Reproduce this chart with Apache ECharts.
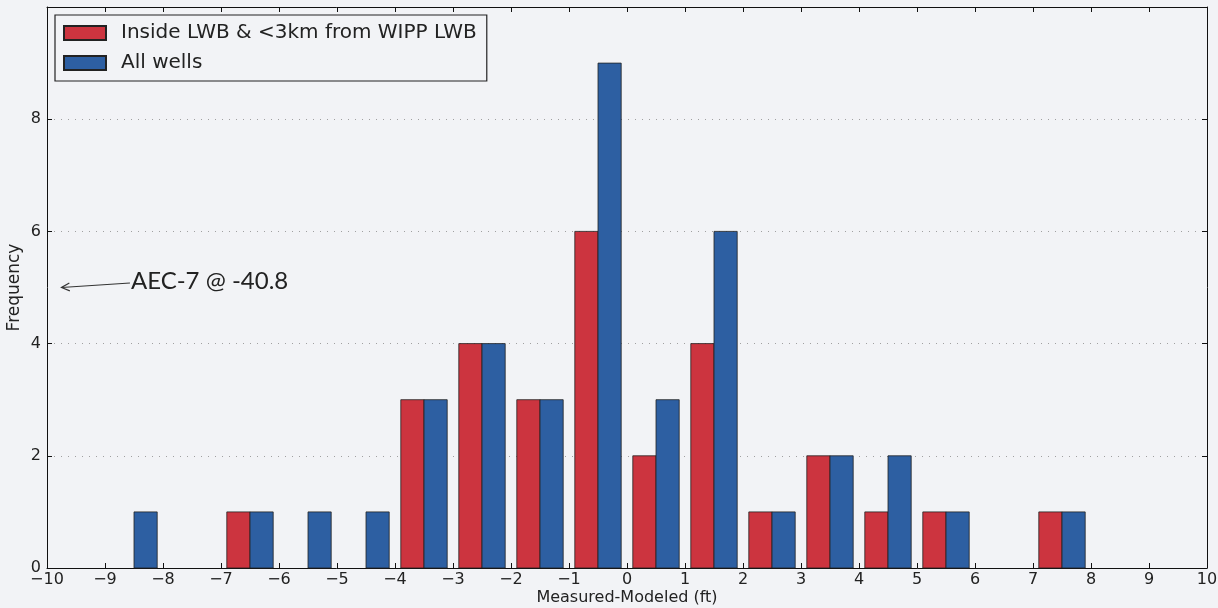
<!DOCTYPE html>
<html>
<head>
<meta charset="utf-8">
<script src="https://cdn.jsdelivr.net/npm/echarts@6/dist/echarts.min.js"></script>
<style>
  html, body { margin: 0; padding: 0; background: #f2f3f6; }
  #chart { width: 1218px; height: 608px; }
</style>
</head>
<body>
<div id="chart"></div>
<script>
// Histogram bins of width 1 ft, given by their left edge
const binStarts = [-10, -9, -8, -7, -6, -5, -4, -3, -2, -1, 0, 1, 2, 3, 4, 5, 6, 7, 8, 9];
// Counts per bin
const insideCounts = [0, 0, 0, 1, 0, 0, 3, 4, 3, 6, 2, 4, 1, 2, 1, 1, 0, 1, 0, 0];
const allCounts    = [0, 1, 0, 1, 1, 1, 3, 4, 3, 9, 3, 6, 1, 2, 2, 1, 0, 1, 0, 0];
const seriesNames = ['Inside LWB & <3km from WIPP LWB', 'All wells'];
const xTicks = [-10, -9, -8, -7, -6, -5, -4, -3, -2, -1, 0, 1, 2, 3, 4, 5, 6, 7, 8, 9, 10];
const yTicks = [0, 2, 4, 6, 8, 10];
// Off-scale well noted with an arrow
const noteText = 'AEC-7 @ -40.8';
const noteFrom = [-8.57, 5.08];
const noteTo = [-9.75, 5.0];

const RED = '#cc343f';
const BLUE = '#2d5fa2';
const BG = '#f2f3f6';
const FONT = '"DejaVu Sans", sans-serif';
const fmt = v => String(v).replace('-', '\u2212');

function barRenderer(offset) {
  return function (params, api) {
    const count = api.value(1);
    if (!count) return null;
    const x0 = api.value(0) + offset;
    const p0 = api.coord([x0, count]);
    const p1 = api.coord([x0 + 0.4, 0]);
    return {
      type: 'rect',
      shape: { x: p0[0], y: p0[1], width: p1[0] - p0[0], height: p1[1] - p0[1] },
      style: api.style()
    };
  };
}

const chart = echarts.init(document.getElementById('chart'), null, { renderer: 'canvas' });

const axisCommon = {
  type: 'value',
  axisLine: { show: true, onZero: false, lineStyle: { color: '#111', width: 1 } },
  axisTick: { show: true, inside: true, length: 5, lineStyle: { color: '#111', width: 1 } }
};

chart.setOption({
  backgroundColor: BG,
  animation: false,
  grid: { left: 47, right: 11, top: 7, bottom: 40, containLabel: false, outerBoundsMode: 'none' },
  legend: {
    orient: 'vertical',
    left: 55, top: 15,
    padding: [8, 10, 8, 8],
    itemWidth: 42, itemHeight: 14, itemGap: 10,
    backgroundColor: BG,
    borderColor: '#222', borderWidth: 1.2,
    textStyle: { fontFamily: FONT, fontSize: 20, color: '#222', padding: [0, 0, 0, 10] },
    data: seriesNames.map(n => ({ name: n, icon: 'rect' }))
  },
  xAxis: [
    Object.assign({}, axisCommon, {
      min: xTicks[0], max: xTicks[xTicks.length - 1], interval: 1,
      position: 'bottom',
      name: 'Measured-Modeled (ft)', nameLocation: 'middle', nameGap: 22,
      nameMoveOverlap: false,
      nameTextStyle: { fontFamily: FONT, fontSize: 16, color: '#222' },
      axisLabel: { fontFamily: FONT, fontSize: 16, color: '#222', margin: 4, formatter: fmt },
      splitLine: { show: false }
    }),
    Object.assign({}, axisCommon, {
      min: xTicks[0], max: xTicks[xTicks.length - 1], interval: 1,
      position: 'top',
      axisLabel: { show: false },
      splitLine: { show: false }
    })
  ],
  yAxis: [
    Object.assign({}, axisCommon, {
      min: yTicks[0], max: yTicks[yTicks.length - 1], interval: 2,
      position: 'left',
      name: 'Frequency', nameLocation: 'middle', nameGap: 24,
      nameMoveOverlap: false,
      nameTextStyle: { fontFamily: FONT, fontSize: 17, color: '#222' },
      axisLabel: { fontFamily: FONT, fontSize: 16, color: '#222', margin: 6, showMaxLabel: false, formatter: fmt },
      splitLine: { show: true, lineStyle: { color: '#a0a0a0', type: [1, 6], width: 1 } }
    }),
    Object.assign({}, axisCommon, {
      min: yTicks[0], max: yTicks[yTicks.length - 1], interval: 2,
      position: 'right',
      axisLabel: { show: false },
      splitLine: { show: false }
    })
  ],
  series: [
    {
      name: seriesNames[0],
      type: 'custom',
      renderItem: barRenderer(0.1),
      itemStyle: { color: RED, borderColor: '#222', borderWidth: 0.8 },
      encode: { x: 0, y: 1 },
      data: binStarts.map((b, i) => [b, insideCounts[i]]),
      z: 3
    },
    {
      name: seriesNames[1],
      type: 'custom',
      renderItem: barRenderer(0.5),
      itemStyle: { color: BLUE, borderColor: '#222', borderWidth: 0.8 },
      encode: { x: 0, y: 1 },
      data: binStarts.map((b, i) => [b, allCounts[i]]),
      z: 3
    },
    {
      name: 'note',
      type: 'custom',
      silent: true,
      z: 4,
      data: [[noteFrom[0], noteFrom[1], noteTo[0], noteTo[1]]],
      renderItem: function (params, api) {
        const a = api.coord([api.value(0), api.value(1)]);
        const b = api.coord([api.value(2), api.value(3)]);
        const ang = Math.atan2(a[1] - b[1], a[0] - b[0]);
        const hl = 9, hw = 0.45;
        const h1 = [b[0] + hl * Math.cos(ang + hw), b[1] + hl * Math.sin(ang + hw)];
        const h2 = [b[0] + hl * Math.cos(ang - hw), b[1] + hl * Math.sin(ang - hw)];
        return {
          type: 'group',
          children: [
            { type: 'line', shape: { x1: a[0], y1: a[1], x2: b[0], y2: b[1] },
              style: { stroke: '#333', lineWidth: 1.2 } },
            { type: 'polyline', shape: { points: [h1, b, h2] },
              style: { stroke: '#333', lineWidth: 1.2, fill: null } },
            { type: 'text', x: a[0] + 1, y: a[1] - 2,
              style: { text: noteText, font: '24px Lato, "Open Sans", sans-serif',
                       fill: '#222', textVerticalAlign: 'middle', textAlign: 'left' } }
          ]
        };
      }
    }
  ]
});
</script>
</body>
</html>
